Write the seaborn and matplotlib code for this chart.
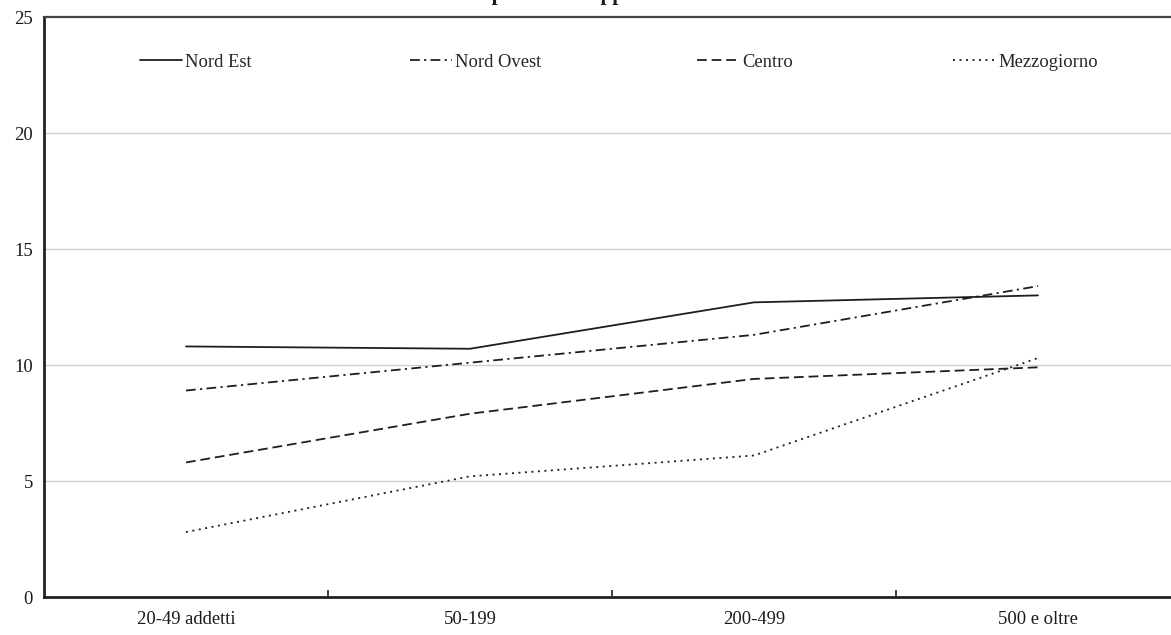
import matplotlib
matplotlib.use("Agg")
import matplotlib.pyplot as plt
import seaborn as sns
import pandas as pd

categories = ["20-49 addetti", "50-199", "200-499", "500 e oltre"]
series_names = ["Nord Est", "Nord Ovest", "Centro", "Mezzogiorno"]
nord_est = [10.8, 10.7, 12.7, 13.0]
nord_ovest = [8.9, 10.1, 11.3, 13.4]
centro = [5.8, 7.9, 9.4, 9.9]
mezzogiorno = [2.8, 5.2, 6.1, 10.3]
y_ticks = [0, 5, 10, 15, 20, 25]
title_text = "Imprese e sviluppo"

sns.set_theme(style="white")
plt.rcParams["font.family"] = ["Liberation Serif", "DejaVu Serif"]

rows = []
for name, vals in zip(series_names, [nord_est, nord_ovest, centro, mezzogiorno]):
    for i, v in enumerate(vals):
        rows.append({"pos": i, "serie": name, "valore": v})
df = pd.DataFrame(rows)

W, H = 1171, 635
fig = plt.figure(figsize=(W / 100, H / 100), dpi=100)
ax = fig.add_axes([44 / W, 38 / H, (1180 - 44) / W, (597 - 17) / H])

dashes = {
    "Nord Est": "",
    "Nord Ovest": (5.4, 2.4, 1.2, 2.4),
    "Centro": (5.4, 2.7),
    "Mezzogiorno": (1.1, 2.5),
}
sns.lineplot(data=df, x="pos", y="valore", style="serie", style_order=series_names,
             dashes=dashes, markers=False, color="#1e1e1e", linewidth=1.3,
             sort=False, ax=ax, legend=True)

handles, labels = ax.get_legend_handles_labels()
ax.get_legend().remove()

ax.set_xlim(-0.5, 3.5)
ax.set_ylim(0, 25)
ax.set_xlabel("")
ax.set_ylabel("")
ax.set_xticks(range(len(categories)))
ax.set_xticklabels(categories)
ax.set_xticks([0.5, 1.5, 2.5], minor=True)
ax.tick_params(axis="x", which="major", length=0, pad=10, labelsize=13.4, colors="#1a1a1a")
ax.tick_params(axis="x", which="minor", length=5, width=1.2, direction="in", color="#222222", bottom=True)
ax.set_yticks(y_ticks)
ax.tick_params(axis="y", length=0, pad=8, labelsize=13.4, colors="#1a1a1a")

ax.grid(False)
for yv in y_ticks[1:-1]:
    ax.axhline(yv, color="#cfcfcf", linewidth=1.0, zorder=0)

for side in ["left", "bottom"]:
    ax.spines[side].set_color("#222222")
    ax.spines[side].set_linewidth(2.0)
ax.spines["top"].set_color("#444444")
ax.spines["top"].set_linewidth(1.6)
ax.spines["right"].set_visible(False)

# legend entries placed individually
legend_x = [140, 410, 697, 953]
for h, lab, lx in zip(handles, labels, legend_x):
    fig.legend([h], [lab], loc="center left", bbox_to_anchor=(lx / W, 1 - 62 / H),
               frameon=False, borderpad=0, borderaxespad=0, handlelength=2.26,
               handletextpad=0.18, fontsize=13.4)

# title, clipped at the top of the canvas as in the reference (only descenders visible)
fig.text(550 / W, 1.0 + 0.5 / H, title_text, ha="center", va="baseline",
         fontsize=15, fontweight="bold", color="#1a1a1a")

fig.savefig("out.png", dpi=100)
